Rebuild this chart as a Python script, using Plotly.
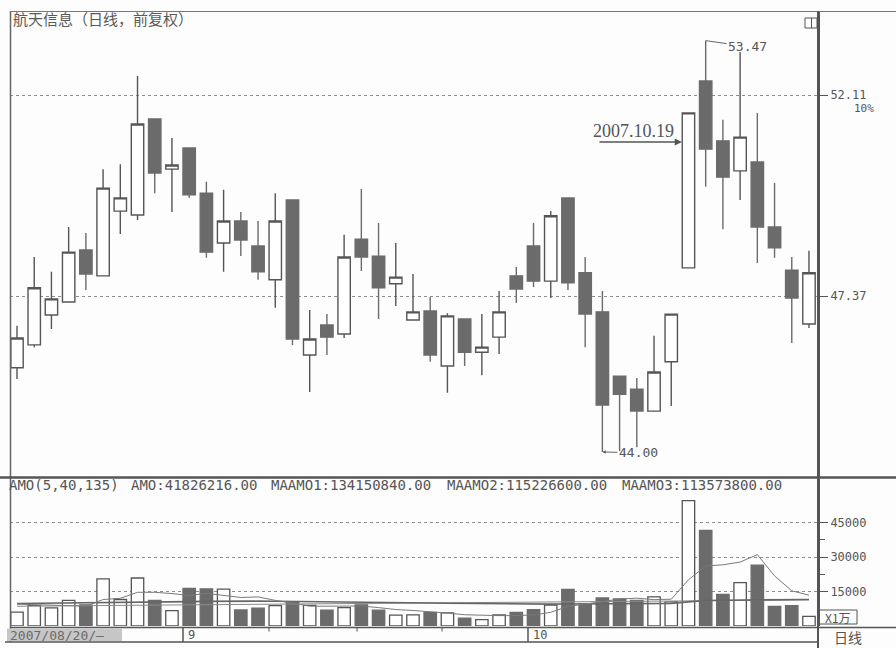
import math
import plotly.graph_objects as go

# ---------------- data ----------------
dates = ["2007-08-20", "2007-08-21", "2007-08-22", "2007-08-23", "2007-08-24",
         "2007-08-27", "2007-08-28", "2007-08-29", "2007-08-30", "2007-08-31",
         "2007-09-03", "2007-09-04", "2007-09-05", "2007-09-06", "2007-09-07",
         "2007-09-10", "2007-09-11", "2007-09-12", "2007-09-13", "2007-09-14",
         "2007-09-17", "2007-09-18", "2007-09-19", "2007-09-20", "2007-09-21",
         "2007-09-24", "2007-09-25", "2007-09-26", "2007-09-27", "2007-09-28",
         "2007-10-08", "2007-10-09", "2007-10-10", "2007-10-11", "2007-10-12",
         "2007-10-15", "2007-10-16", "2007-10-17", "2007-10-18", "2007-10-19",
         "2007-10-22", "2007-10-23", "2007-10-24", "2007-10-25", "2007-10-26",
         "2007-10-29", "2007-10-30"]

open_ = [45.79, 46.29, 46.95, 47.24, 48.42, 47.83, 49.32, 49.23, 51.52, 50.31,
         50.82, 49.74, 48.58, 49.09, 48.51, 47.74, 49.58, 46.07, 46.73, 46.53,
         48.67, 48.28, 47.65, 46.84, 47.04, 45.83, 46.86, 46.13, 46.46, 47.83,
         48.51, 47.71, 49.63, 47.90, 47.02, 45.61, 45.33, 44.86, 45.92, 48.01,
         52.46, 50.99, 50.27, 50.48, 48.95, 47.96, 46.75]
high = [46.71, 48.26, 47.92, 48.95, 48.81, 50.31, 50.43, 52.58, 51.52, 51.06,
        50.82, 50.01, 49.82, 49.30, 49.09, 49.74, 49.58, 47.06, 46.97, 48.77,
        49.84, 49.04, 48.58, 47.87, 47.35, 46.99, 46.88, 46.97, 47.49, 48.03,
        49.04, 49.32, 49.63, 48.26, 47.49, 45.61, 45.57, 46.49, 46.97, 51.67,
        53.47, 51.50, 53.18, 51.67, 49.98, 48.26, 48.40]
low = [45.55, 46.24, 46.64, 47.24, 47.51, 47.83, 48.79, 49.11, 49.74, 49.30,
       49.63, 48.24, 47.92, 48.28, 47.74, 47.11, 46.29, 45.27, 46.07, 46.44,
       47.94, 46.86, 47.15, 46.84, 45.92, 45.25, 45.83, 45.63, 46.09, 47.22,
       47.58, 47.33, 47.51, 46.24, 44.00, 44.02, 44.10, 44.86, 44.97, 48.01,
       49.89, 48.90, 49.58, 48.12, 48.24, 46.33, 46.66]
close = [46.44, 47.56, 47.31, 48.37, 47.87, 49.86, 49.63, 51.40, 50.22, 50.41,
         49.70, 48.37, 49.09, 48.65, 47.92, 49.09, 46.42, 46.42, 46.46, 48.26,
         48.26, 47.56, 47.80, 47.02, 46.07, 46.93, 46.13, 46.24, 47.02, 47.53,
         47.71, 49.21, 47.67, 46.97, 44.99, 45.22, 44.86, 45.70, 46.97, 51.67,
         50.79, 50.12, 51.08, 48.95, 48.47, 47.33, 47.90]

# AMO (turnover, unit: 10,000 yuan)
amo = [6000, 8870, 7870, 11170, 9220, 20480, 11520, 20870, 11130, 6650,
       16300, 16130, 16000, 6960, 7780, 8870, 10390, 9000, 6910, 8000,
       9220, 6870, 4740, 4830, 5910, 5700, 3430, 2780, 4780, 5960,
       7090, 9040, 15910, 9480, 12170, 11780, 11130, 12650, 10520, 54520,
       41570, 13700, 18830, 26440, 8570, 8870, 4182.62]
maamo1 = [9500, 9300, 9000, 8700, 8626, 11500, 12050, 14650, 14650, 14100,
          13300, 14200, 13250, 12400, 12650, 11150, 10000, 8600, 8600, 8650,
          8700, 8000, 7150, 6750, 6300, 5600, 4900, 4550, 4500, 4550,
          4800, 5950, 8550, 9500, 10750, 11700, 12100, 11450, 11650, 20100,
          26100, 26600, 27800, 31000, 21800, 15300, 13415]
maamo2 = [9800, 9850, 9900, 9950, 10000, 10150, 10250, 10400, 10500, 10500,
          10600, 10700, 10800, 10800, 10800, 10750, 10700, 10650, 10600, 10500,
          10400, 10300, 10200, 10100, 10000, 9900, 9800, 9700, 9600, 9550,
          9500, 9500, 9550, 9600, 9650, 9700, 9750, 9800, 9850, 10500,
          11100, 11200, 11300, 11500, 11500, 11550, 11523]
maamo3 = [8600, 8650, 8700, 8750, 8800, 8900, 9000, 9100, 9200, 9250,
          9300, 9350, 9400, 9450, 9500, 9550, 9600, 9650, 9700, 9750,
          9800, 9850, 9900, 9950, 10000, 10050, 10100, 10150, 10200, 10250,
          10300, 10350, 10400, 10450, 10500, 10550, 10600, 10650, 10700, 10800,
          10900, 11000, 11100, 11200, 11250, 11300, 11357]

price_ticks = [47.37, 52.11]
price_ticktext = ["47.37", "52.11"]
vol_ticks = [15000, 30000, 45000]
vol_ticktext = ["15000", "30000", "45000"]

title_text = "航天信息（日线，前复权）"
legend_parts = ["AMO(5,40,135)", "AMO:41826216.00", "MAAMO1:134150840.00",
                "MAAMO2:115226600.00", "MAAMO3:113573800.00"]
high_label = "53.47"
low_label = "44.00"
event_label = "2007.10.19"

# ---------------- styling ----------------
W, H = 896, 648
ML, MR, MT, MB = 10, 78, 12, 22
PW = W - ML - MR
PH = H - MT - MB
BG = "#fdfdfd"
INK = "#555555"
DARK = "#6b6b6b"
MONO = "DejaVu Sans Mono"
CJK = "Noto Sans CJK SC"


def PX(x):
    return (x - ML) / PW


def PY(y):
    return (H - MB - y) / PH


idx = list(range(len(dates)))
up = [c >= o for o, c in zip(open_, close)]

fig = go.Figure()

fig.add_trace(go.Candlestick(
    x=idx, open=open_, high=high, low=low, close=close,
    increasing=dict(line=dict(color=INK, width=1.4), fillcolor="#ffffff"),
    decreasing=dict(line=dict(color=DARK, width=1.4), fillcolor=DARK),
    whiskerwidth=0, xaxis="x", yaxis="y", hoverinfo="skip", showlegend=False,
))

fig.add_trace(go.Bar(
    x=idx, y=amo, width=0.72,
    marker=dict(color=["#ffffff" if u else DARK for u in up],
                line=dict(color=[INK if u else DARK for u in up], width=1.3)),
    xaxis="x", yaxis="y2", hoverinfo="skip", showlegend=False,
))

for vals, col, wd in [(maamo3, "#8a8a8a", 1), (maamo2, "#666666", 1.6), (maamo1, "#7a7a7a", 1)]:
    fig.add_trace(go.Scatter(x=idx, y=vals, mode="lines",
                             line=dict(color=col, width=wd),
                             xaxis="x", yaxis="y2", hoverinfo="skip", showlegend=False))

# price axis: log scale, 52.11 at y=95px, 47.37 ~ y=296px
K = 2110.0
ln_top = math.log(52.11) + (95 - MT) / K
ln_bot = math.log(52.11) - (477 - 95) / K
price_dom0 = PY(477)
vol_dom1 = PY(478)
vol_top = (H - MB - 478) / 34.5 * 15000

axis_common = dict(side="right", showline=True, linecolor=INK, linewidth=2,
                   ticks="outside", ticklen=8, tickwidth=1, tickcolor=INK,
                   tickfont=dict(family=MONO, size=12, color=INK),
                   showgrid=True, gridcolor="#8c8c8c", griddash="dot", gridwidth=1,
                   zeroline=False, fixedrange=True)

fig.update_layout(
    width=W, height=H,
    margin=dict(l=ML, r=MR, t=MT, b=MB, pad=0),
    paper_bgcolor=BG, plot_bgcolor=BG,
    boxgap=0.0, boxgroupgap=0.28,
    bargap=0.28,
    xaxis=dict(range=[-7 / 17.217, (818 - 17) / 17.217], visible=False,
               rangeslider=dict(visible=False), fixedrange=True),
    yaxis=dict(type="log", domain=[price_dom0, 1],
               range=[ln_bot / math.log(10), ln_top / math.log(10)],
               tickmode="array", tickvals=price_ticks, ticktext=price_ticktext,
               anchor="x", **axis_common),
    yaxis2=dict(domain=[0, vol_dom1], range=[0, vol_top],
                tickmode="array", tickvals=vol_ticks, ticktext=vol_ticktext,
                minor=dict(tickmode="array", tickvals=[22500, 37500], ticks="outside",
                           ticklen=5, tickcolor=INK, showgrid=False),
                anchor="x", **axis_common),
    showlegend=False,
    hovermode=False,
)

line = dict(color=INK, width=1.5)
shapes = [
    dict(type="line", xref="paper", yref="paper", x0=PX(10.5), x1=PX(10.5), y0=PY(11), y1=PY(642), line=dict(color="#666", width=1.5)),
    dict(type="line", xref="paper", yref="paper", x0=PX(10), x1=PX(896), y0=PY(11.5), y1=PY(11.5), line=dict(color="#777", width=1.2)),
    dict(type="line", xref="paper", yref="paper", x0=PX(818), x1=PX(818), y0=PY(11), y1=PY(648), line=dict(color=INK, width=2)),
    dict(type="line", xref="paper", yref="paper", x0=PX(0), x1=PX(896), y0=PY(477.5), y1=PY(477.5), line=dict(color=INK, width=2.5)),
    dict(type="line", xref="paper", yref="paper", x0=PX(10), x1=PX(896), y0=PY(627.5), y1=PY(627.5), line=line),
    dict(type="line", xref="paper", yref="paper", x0=PX(5), x1=PX(818), y0=PY(642), y1=PY(642), line=line),
    dict(type="rect", xref="paper", yref="paper", x0=PX(7), x1=PX(122), y0=PY(641), y1=PY(628.5), fillcolor="#c6c6c6", line=dict(width=0)),
    dict(type="line", xref="paper", yref="paper", x0=PX(183), x1=PX(183), y0=PY(627.5), y1=PY(642), line=line),
    dict(type="line", xref="paper", yref="paper", x0=PX(528), x1=PX(528), y0=PY(627.5), y1=PY(642), line=line),
    dict(type="rect", xref="paper", yref="paper", x0=PX(819), x1=PX(857), y0=PY(624), y1=PY(610), line=dict(color=INK, width=1)),
    dict(type="rect", xref="paper", yref="paper", x0=PX(805), x1=PX(817), y0=PY(28), y1=PY(18), line=dict(color=INK, width=1)),
    dict(type="line", xref="paper", yref="paper", x0=PX(811.5), x1=PX(811.5), y0=PY(28), y1=PY(18), line=dict(color=INK, width=1)),
]
for tx in [269, 357, 442]:
    shapes.append(dict(type="line", xref="paper", yref="paper", x0=PX(tx), x1=PX(tx),
                       y0=PY(627.5), y1=PY(631.5), line=dict(color=INK, width=1)))
fig.update_layout(shapes=shapes)

ann = []


def ptext(x, y, text, size=12, family=MONO, xanchor="left", color=INK):
    ann.append(dict(xref="paper", yref="paper", x=PX(x), y=PY(y), text=text,
                    showarrow=False, xanchor=xanchor, yanchor="middle",
                    font=dict(family=family, size=size, color=color)))


ptext(11, 18, title_text, size=15, family=CJK, color="#5a5a5a")
ptext(852, 109, "10%", size=11)
for xp, part in zip([7, 129, 269, 445, 620], legend_parts):
    ptext(xp, 485, part, size=14)
ptext(838, 617, "X1万", size=12, family=CJK, xanchor="center")
ptext(848, 637, "日线", size=14, family=CJK, xanchor="center")
ptext(8, 635, "2007/08/20/—", size=13, color="#6a6a6a")
ptext(186, 635, "9", size=12)
ptext(531, 635, "10", size=12)

L10 = math.log(10)
hi_i = high.index(max(high))
lo_i = low.index(min(low))
ev_i = dates.index("2007-10-19")
ann.append(dict(xref="x", yref="y", x=hi_i, y=math.log10(max(high)), text=high_label,
                showarrow=True, ax=42, ay=6, arrowhead=0, arrowwidth=1, arrowcolor="#666",
                standoff=0, xanchor="center", font=dict(family=MONO, size=13, color=INK)))
ann.append(dict(xref="x", yref="y", x=lo_i, y=math.log10(min(low)), text=low_label,
                showarrow=True, ax=36, ay=1, arrowhead=2, arrowsize=0.7, arrowwidth=1,
                arrowcolor="#666", standoff=0, font=dict(family=MONO, size=13, color=INK)))
y_ev = (math.log(52.11) - (142 - 95) / K) / L10
ann.append(dict(xref="x", yref="y", x=ev_i - 0.38, y=y_ev, text="",
                showarrow=True, ax=-84, ay=0, arrowhead=2, arrowsize=1.1, arrowwidth=1.3,
                arrowcolor=INK, standoff=0))
ann.append(dict(xref="x", yref="y", x=ev_i - 3.2, y=(math.log(52.11) - (131 - 95) / K) / L10,
                text=event_label, showarrow=False, xanchor="center", yanchor="middle",
                font=dict(family="Liberation Serif", size=18, color=INK)))
fig.update_layout(annotations=ann)

fig.write_html("out.html", config={"displayModeBar": False, "staticPlot": True},
               post_script="document.body.style.margin='0';document.body.style.overflow='hidden';")
